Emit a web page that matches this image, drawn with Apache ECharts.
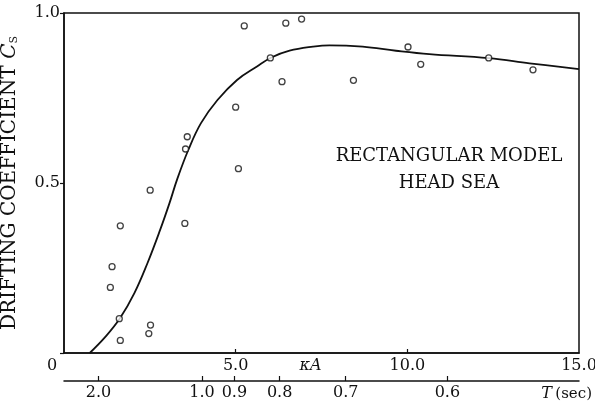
<!DOCTYPE html>
<html>
<head>
<meta charset="utf-8">
<script src="https://cdn.jsdelivr.net/npm/echarts@6/dist/echarts.min.js"></script>
<style>
  html, body { margin: 0; padding: 0; background: #fff; }
  #chart { width: 595px; height: 407px; }
</style>
</head>
<body>
<div id="chart"></div>
<script>
// Measured drifting coefficient Cs against wave steepness parameter κA
const kappaA = [1.35, 1.40, 1.61, 1.64, 1.64, 2.47, 2.51, 2.52, 3.52, 3.54, 3.59,
                5.00, 5.08, 5.25, 6.01, 6.35, 6.46, 6.92, 8.43, 10.02, 10.39, 12.37, 13.66];
const cs = [0.193, 0.254, 0.101, 0.374, 0.037, 0.057, 0.479, 0.082, 0.381, 0.600, 0.636,
            0.723, 0.542, 0.962, 0.868, 0.798, 0.970, 0.982, 0.802, 0.900, 0.849, 0.868, 0.833];

// Faired curve through the measurements
const curveKappaA = [0.75, 1.21, 1.63, 2.05, 2.43, 2.80, 3.07, 3.30, 3.62, 3.99, 4.47, 5.04,
                     5.61, 6.04, 6.57, 7.25, 7.73, 8.70, 9.67, 10.64, 12.37, 13.56, 15.0];
const curveCs = [0.0, 0.048, 0.102, 0.176, 0.264, 0.362, 0.440, 0.512, 0.597, 0.676, 0.744, 0.803,
                 0.842, 0.869, 0.889, 0.901, 0.905, 0.901, 0.889, 0.879, 0.867, 0.852, 0.835];

// Axis ticks
const kappaTicks = [0, 5, 10, 15];
const csTicks = [0, 0.5, 1.0];
const periods = [2.0, 1.0, 0.9, 0.8, 0.7, 0.6];   // wave period T (sec)

// Deep-water relation: κA = (4π²A / g) / T², κA = 4.02 at T = 1 s
const KA_AT_1S = 4.02;
const periodToKappaA = t => KA_AT_1S / (t * t);
const periodPositions = periods.map(periodToKappaA);

const serif = 'DejaVu Serif';
const ink = '#111';

const chart = echarts.init(document.getElementById('chart'), null, { renderer: 'canvas' });

chart.setOption({
  animation: false,
  backgroundColor: '#fff',
  grid: {
    left: 64, right: 16, top: 13, bottom: 54,
    containLabel: false,
    outerBoundsMode: 'none',
    show: true, borderColor: ink, borderWidth: 1.5, backgroundColor: 'transparent'
  },
  xAxis: [
    {
      type: 'value', min: 0, max: 15,
      splitLine: { show: false },
      axisLine: { lineStyle: { color: ink, width: 1.5 } },
      axisTick: { inside: true, length: 4, customValues: [5, 10], lineStyle: { color: ink, width: 1.2 } },
      axisLabel: {
        customValues: kappaTicks,
        margin: 5,
        color: ink, fontFamily: serif, fontSize: 16,
        formatter: v => v === 0 ? '{z|0}' : v.toFixed(1),
        rich: { z: { fontFamily: serif, fontSize: 16, color: ink, padding: [0, 24, 0, 0] } }
      },
      name: '{k|κ}{a|A}',
      nameLocation: 'middle',
      nameGap: 5,
      nameMoveOverlap: false,
      nameTextStyle: {
        verticalAlign: 'top',
        padding: [0, 22, 0, 0],
        rich: {
          k: { fontFamily: serif, fontSize: 16, fontStyle: 'italic', color: ink },
          a: { fontFamily: serif, fontSize: 16, fontStyle: 'italic', color: ink }
        }
      }
    },
    {
      type: 'value', min: 0, max: 15,
      position: 'bottom', offset: 28,
      splitLine: { show: false },
      axisLine: { onZero: false, lineStyle: { color: ink, width: 1.5 } },
      axisTick: { inside: true, length: 5, customValues: periodPositions, lineStyle: { color: ink, width: 1.2 } },
      axisLabel: {
        customValues: periodPositions,
        margin: 4,
        color: ink, fontFamily: serif, fontSize: 16,
        formatter: v => Math.sqrt(KA_AT_1S / v).toFixed(1)
      },
      name: '{t|T} {u|(sec)}',
      nameLocation: 'end',
      nameGap: 13,
      nameMoveOverlap: false,
      nameTextStyle: {
        align: 'right',
        verticalAlign: 'top',
        padding: [5, 0, 0, 0],
        rich: {
          t: { fontFamily: serif, fontSize: 16, fontStyle: 'italic', color: ink },
          u: { fontFamily: serif, fontSize: 15, color: ink }
        }
      }
    }
  ],
  yAxis: {
    type: 'value', min: 0, max: 1.0, interval: 0.5,
    splitLine: { show: false },
    axisLine: { show: true, lineStyle: { color: ink, width: 1.5 } },
    axisTick: { show: true, inside: false, length: 4, lineStyle: { color: ink, width: 1.2 } },
    axisLabel: {
      margin: 4,
      color: ink, fontFamily: serif, fontSize: 16,
      formatter: v => v === 0 ? '' : v.toFixed(1)
    },
    name: '{n|DRIFTING COEFFICIENT}  {c|C}{s|S}',
    nameLocation: 'middle',
    nameGap: 44,
    nameRotate: 90,
    nameMoveOverlap: false,
    nameTextStyle: {
      rich: {
        n: { fontFamily: serif, fontSize: 20, color: ink },
        c: { fontFamily: serif, fontSize: 20, fontStyle: 'italic', color: ink },
        s: { fontFamily: serif, fontSize: 11, color: ink, verticalAlign: 'bottom', padding: [9, 0, 0, 0] }
      }
    }
  },
  graphic: [
    {
      type: 'text',
      x: 449, y: 143,
      style: {
        text: 'RECTANGULAR MODEL\nHEAD SEA',
        fill: ink,
        font: '18px "DejaVu Serif"',
        align: 'center',
        lineHeight: 27
      }
    }
  ],
  series: [
    {
      type: 'line',
      xAxisIndex: 0,
      data: curveKappaA.map((x, i) => [x, curveCs[i]]),
      smooth: 0.4,
      showSymbol: false,
      lineStyle: { color: ink, width: 1.8 },
      z: 3
    },
    {
      type: 'scatter',
      xAxisIndex: 0,
      data: kappaA.map((x, i) => [x, cs[i]]),
      symbol: 'circle',
      symbolSize: 6,
      itemStyle: { color: '#fff', borderColor: ink, borderWidth: 1.3 },
      z: 4
    }
  ]
});
</script>
</body>
</html>
